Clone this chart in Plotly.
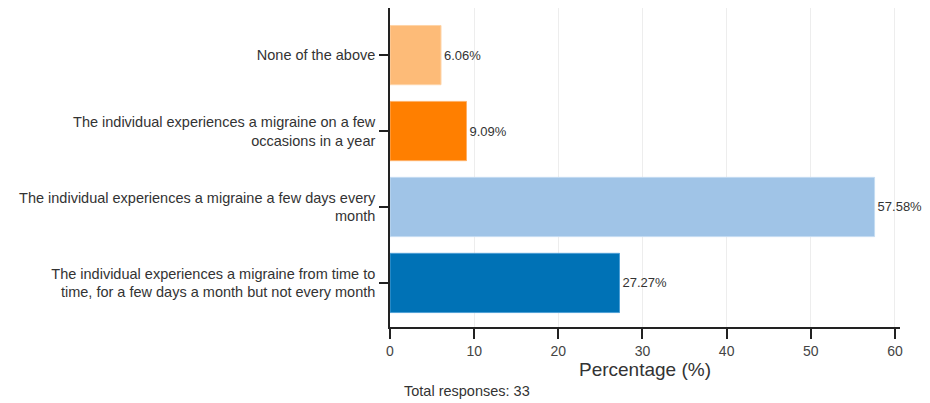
import plotly.graph_objects as go

categories = [
    "The individual experiences a migraine from time to<br>time, for a few days a month but not every month",
    "The individual experiences a migraine a few days every<br>month",
    "The individual experiences a migraine on a few<br>occasions in a year",
    "None of the above",
]
values = [27.27, 57.58, 9.09, 6.06]
labels = ["27.27%", "57.58%", "9.09%", "6.06%"]
colors = ["#0072b6", "#a0c4e7", "#ff7f00", "#fdbb78"]
line_colors = ["#4d9fd6", "#c4dcf2", "#ffb066", "#fed4a8"]
x_ticks = [0, 10, 20, 30, 40, 50, 60]

FONT = "Liberation Sans, Arial, sans-serif"

fig = go.Figure(
    go.Bar(
        x=values,
        y=categories,
        orientation="h",
        marker=dict(color=colors, line=dict(color=line_colors, width=1)),
        text=labels,
        textposition="outside",
        textfont=dict(size=13, color="#333333", family=FONT),
        constraintext="none",
        cliponaxis=False,
    )
)

fig.update_layout(
    width=930,
    height=403,
    margin=dict(l=382, r=38, t=0, b=84, autoexpand=False),
    paper_bgcolor="white",
    plot_bgcolor="white",
    bargap=0.22,
    showlegend=False,
    font=dict(family=FONT, color="#333333"),
    xaxis=dict(
        range=[0, 60.6],
        tickvals=x_ticks,
        showgrid=True,
        gridcolor="#ededed",
        gridwidth=1,
        zeroline=False,
        showline=True,
        linecolor="#222222",
        linewidth=1.6,
        ticks="outside",
        ticklen=10,
        tickwidth=1.6,
        tickcolor="#222222",
        tickfont=dict(size=14, color="#444444"),
        title=dict(text="Percentage (%)", font=dict(size=19, color="#333333"), standoff=5),
    ),
    yaxis=dict(
        range=[-0.58, 3.62],
        showgrid=False,
        zeroline=False,
        showline=True,
        linecolor="#222222",
        linewidth=1.6,
        ticks="outside",
        ticklen=9,
        tickwidth=1.6,
        tickcolor="#222222",
        tickfont=dict(size=14.5, color="#333333"),
        ticklabelstandoff=1,
    ),
    annotations=[
        dict(
            text="Total responses: 33",
            xref="paper",
            yref="paper",
            x=0.0235,
            y=-0.2006,
            xanchor="left",
            yanchor="middle",
            showarrow=False,
            font=dict(size=14.5, color="#333333"),
        )
    ],
)

fig.write_html("out.html")
